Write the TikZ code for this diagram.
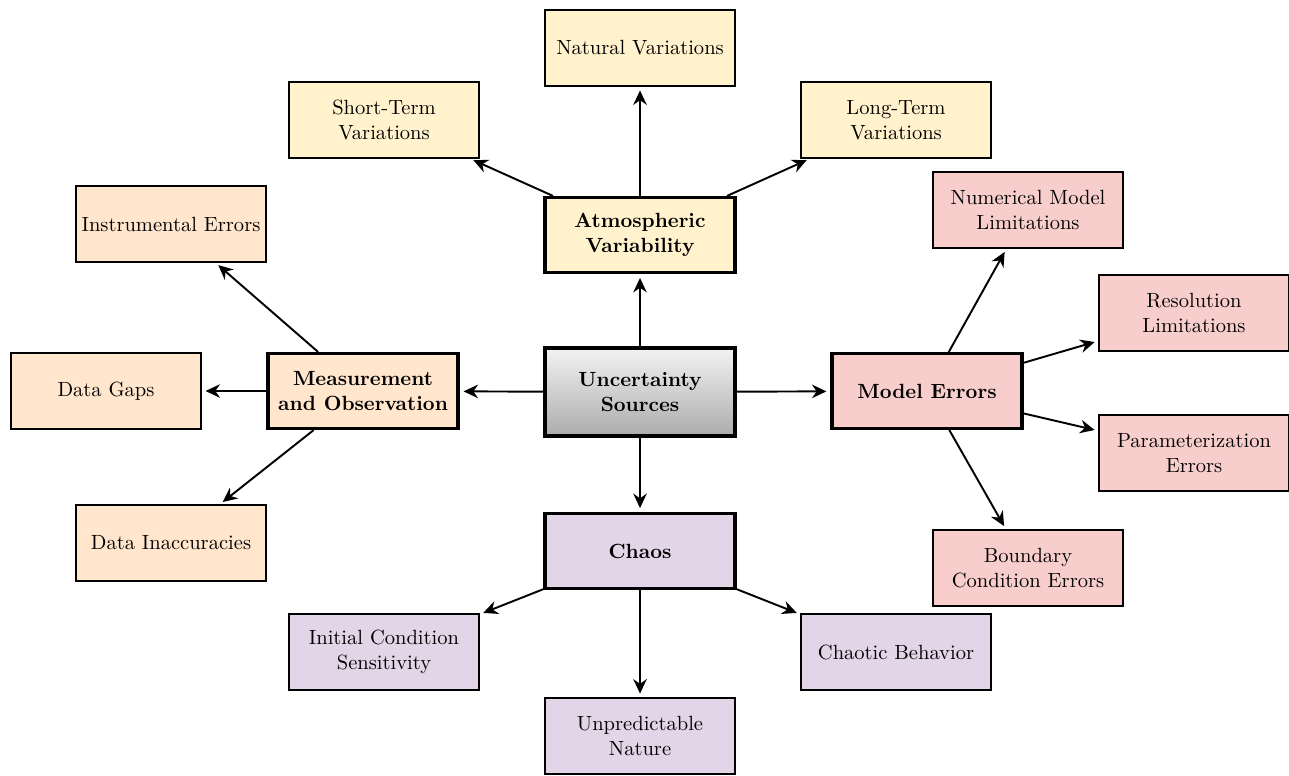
\documentclass[tikz,border=0pt]{standalone}
\usetikzlibrary{arrows.meta,shadings}
\definecolor{atmfill}{HTML}{FFF2CC}
\definecolor{meafill}{HTML}{FFE6CC}
\definecolor{modfill}{HTML}{F8CECC}
\definecolor{chafill}{HTML}{E1D5E7}
\newcommand{\boxfont}{\fontsize{10.65}{12.9}\selectfont}
\tikzset{
  mainbox/.style={draw, line width=1.8pt, minimum width=3.46cm, minimum height=1.36cm, align=center, font=\boxfont\bfseries, inner sep=2pt},
  leafbox/.style={draw, line width=1pt, minimum width=3.45cm, minimum height=1.37cm, align=center, font=\boxfont, inner sep=2pt},
  arr/.style={-{Stealth[length=7.5pt,width=7pt]}, line width=1pt, shorten >=2pt},
}
\begin{document}
\begin{tikzpicture}[x=0.018215cm, y=-0.018215cm]
\useasboundingbox (0,0) rectangle (1289,775);
% center
\node[mainbox, minimum height=1.6cm, top color=gray!10, bottom color=gray!65] (c) at (640,392) {Uncertainty\\Sources};
% atmospheric
\node[mainbox, fill=atmfill] (atm) at (640,235) {Atmospheric\\Variability};
\node[leafbox, fill=atmfill] (nat) at (640,48) {Natural Variations};
\node[leafbox, fill=atmfill] (sht) at (384,120) {Short-Term\\Variations};
\node[leafbox, fill=atmfill] (lng) at (896,120) {Long-Term\\Variations};
% measurement
\node[mainbox, fill=meafill] (mea) at (363,391) {Measurement\\and Observation};
\node[leafbox, fill=meafill] (ins) at (171,224) {Instrumental Errors};
\node[leafbox, fill=meafill] (gap) at (106,391) {Data Gaps};
\node[leafbox, fill=meafill] (ina) at (171,543) {Data Inaccuracies};
% model
\node[mainbox, fill=modfill] (mod) at (927,391) {Model Errors};
\node[leafbox, fill=modfill] (num) at (1028,210) {Numerical Model\\Limitations};
\node[leafbox, fill=modfill] (res) at (1194,313) {Resolution\\Limitations};
\node[leafbox, fill=modfill] (par) at (1194,453) {Parameterization\\Errors};
\node[leafbox, fill=modfill] (bnd) at (1028,568) {Boundary\\Condition Errors};
% chaos
\node[mainbox, fill=chafill] (cha) at (640,551) {Chaos};
\node[leafbox, fill=chafill] (ini) at (384,652) {Initial Condition\\Sensitivity};
\node[leafbox, fill=chafill] (chb) at (896,652) {Chaotic Behavior};
\node[leafbox, fill=chafill] (unp) at (640,736) {Unpredictable\\Nature};
% connectors
\draw[arr] (c) -- (atm);
\draw[arr] (c) -- (mea);
\draw[arr] (c) -- (mod);
\draw[arr] (c) -- (cha);
\draw[arr] (atm) -- (nat);
\draw[arr] (atm) -- (sht);
\draw[arr] (atm) -- (lng);
\draw[arr] (mea) -- (ins);
\draw[arr] (mea) -- (gap);
\draw[arr] (mea) -- (ina);
\draw[arr] (mod) -- (num);
\draw[arr] (mod) -- (res);
\draw[arr] (mod) -- (par);
\draw[arr] (mod) -- (bnd);
\draw[arr] (cha) -- (ini);
\draw[arr] (cha) -- (chb);
\draw[arr] (cha) -- (unp);
\end{tikzpicture}
\end{document}
